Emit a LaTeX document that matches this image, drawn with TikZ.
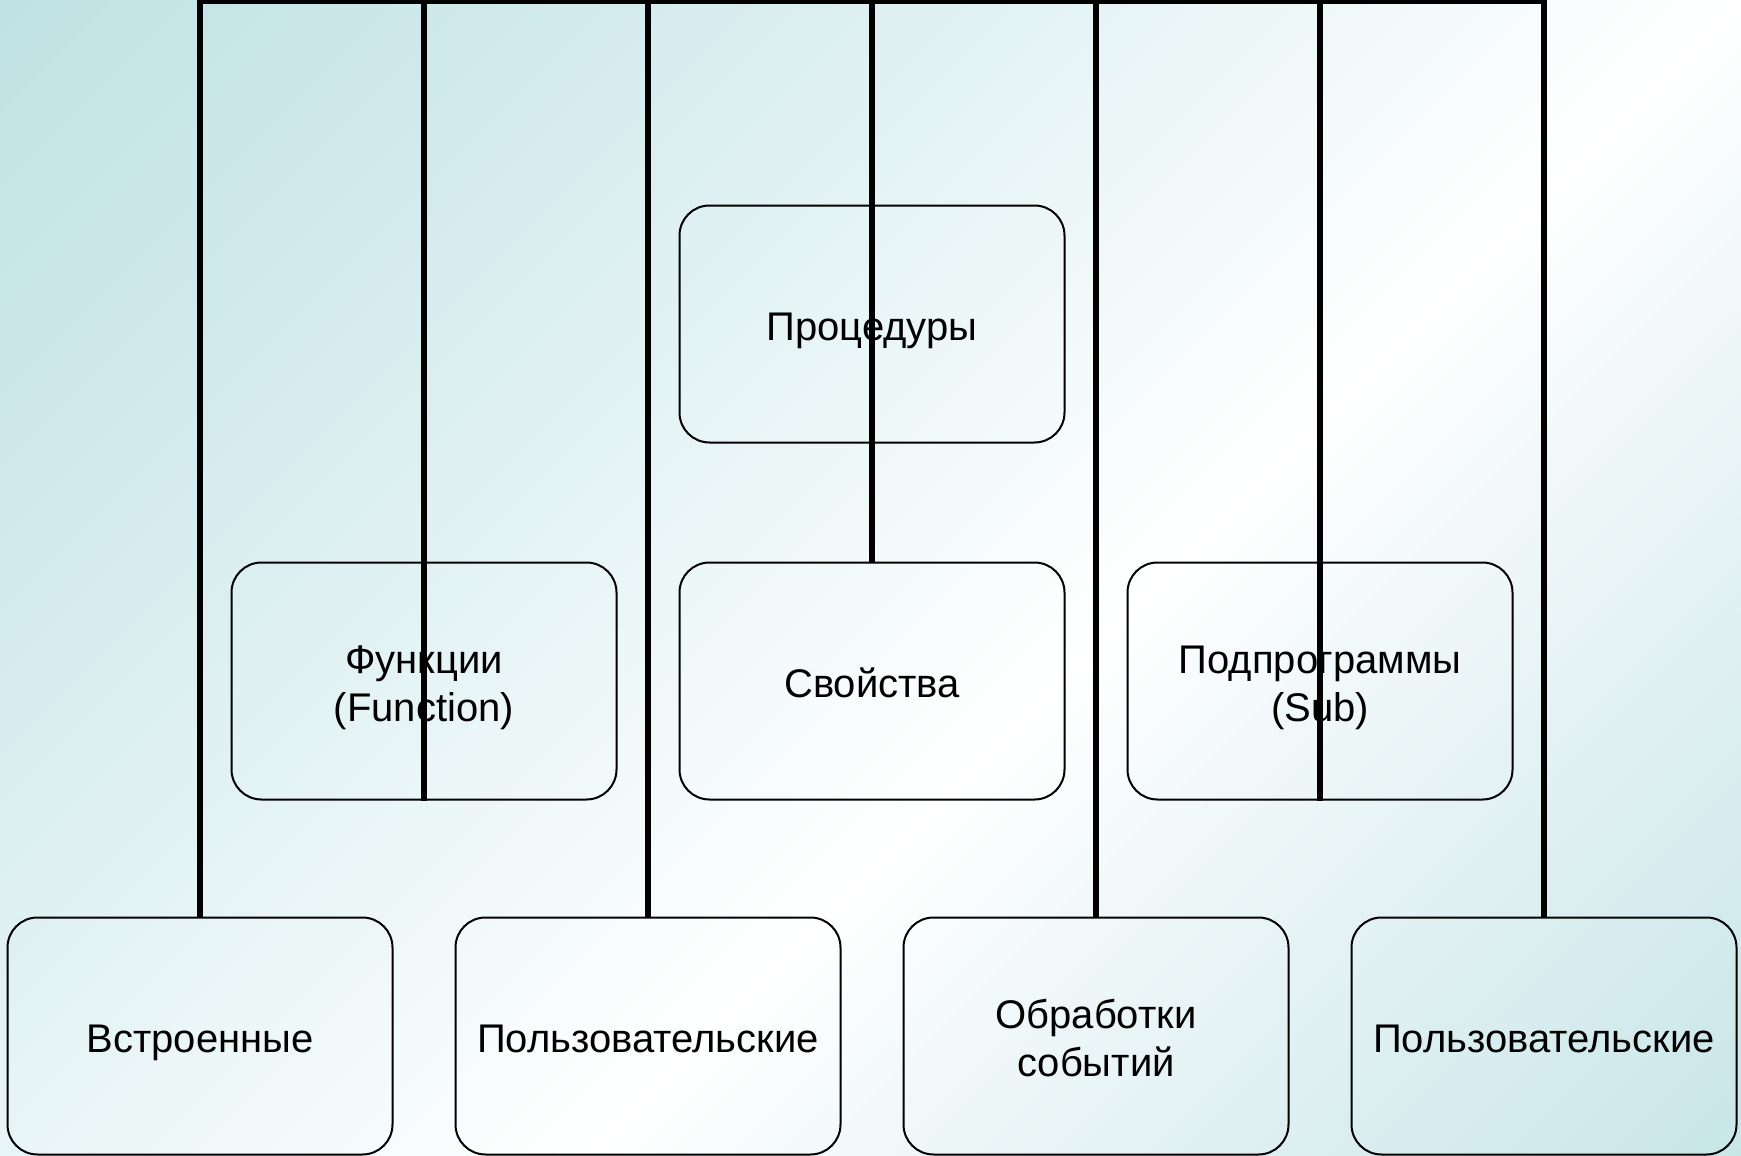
\documentclass[tikz,border=0pt]{standalone}
\usepackage{fontspec}
\setmainfont{Liberation Sans}
\definecolor{bgA}{HTML}{C0E2E4}
\definecolor{bgB}{HTML}{D2EAEC}
\definecolor{bgC}{HTML}{E8F5F6}
\definecolor{bgD}{HTML}{E2F1F3}
\definecolor{bgE}{HTML}{C8E6E8}
\pgfdeclarehorizontalshading{bgshade}{100bp}{color(0bp)=(bgA); color(25bp)=(bgA); color(35bp)=(bgB); color(45bp)=(bgC); color(55bp)=(white); color(65bp)=(bgD); color(75bp)=(bgE); color(100bp)=(bgE)}
\begin{document}
\begin{tikzpicture}[x=0.5pt, y=-0.5pt,
  box/.style={draw=black, line width=1pt, rounded corners=15pt,
    minimum width=192.5pt, minimum height=118.5pt, inner sep=0pt,
    align=center, font=\fontsize{20}{24}\selectfont,
    text height=20.9pt, text depth=4.2pt},
  boxtwo/.style={box, text height=44.9pt},
  link/.style={draw=black, line width=3pt}]
\path[use as bounding box] (0,0) rectangle (1741,1156);
\begin{scope}
  \clip (0,0) rectangle (1741,1156);
  \begin{scope}[transform canvas={rotate=-45}]
    \shade[shading=bgshade] (0pt,-420pt) rectangle (1024.3pt,630pt);
  \end{scope}
\end{scope}

\node[box] (proc) at (872,324) {Процедуры};
\node[boxtwo] (func) at (424,681) {Функции\\(Function)};
\node[box] (prop) at (872,681) {Свойства};
\node[boxtwo] (sub)  at (1320,681) {Подпрограммы\\(Sub)};
\node[box] (b1) at (200,1036) {Встроенные};
\node[box] (b2) at (648,1036) {Пользовательские};
\node[boxtwo] (b3) at (1096,1036) {Обработки\\событий};
\node[box] (b4) at (1544,1036) {Пользовательские};

\coordinate (top) at (0,1);
\draw[link] (b1.north) -- (b1.north |- top) -- (b4.north |- top) -- (b4.north);
\draw[link] (func.south) -- (func.south |- top);
\draw[link] (b2.north) -- (b2.north |- top);
\draw[link] (prop.north) -- (prop.north |- top);
\draw[link] (b3.north) -- (b3.north |- top);
\draw[link] (sub.south) -- (sub.south |- top);
\end{tikzpicture}
\end{document}
